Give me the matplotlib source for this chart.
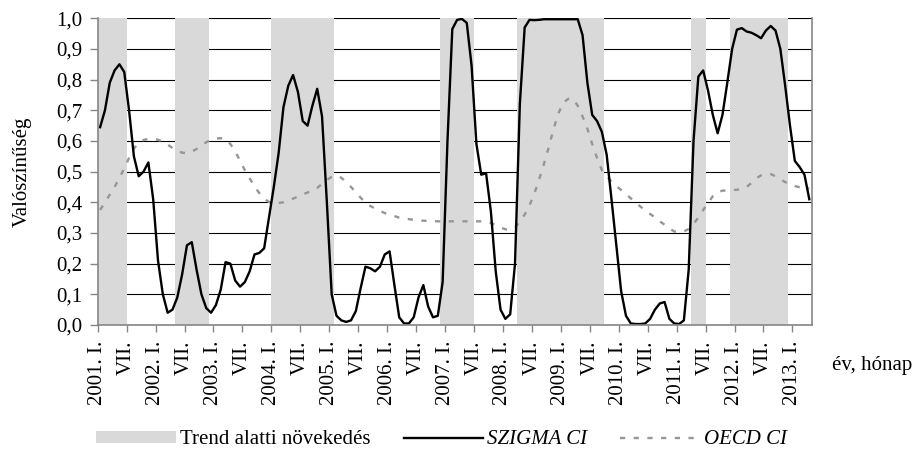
import matplotlib
matplotlib.use('Agg')
import matplotlib.pyplot as plt
from matplotlib.patches import Patch
from matplotlib.lines import Line2D

plt.rcParams['font.family'] = 'Liberation Serif'
plt.rcParams['font.size'] = 15

# monthly series, 2001 I .. 2013 IV (148 months)
szigma_ci = [
    0.645, 0.70, 0.79, 0.83, 0.85, 0.825, 0.70, 0.55, 0.485, 0.50, 0.53, 0.41,      # 2001
    0.21, 0.10, 0.04, 0.05, 0.09, 0.165, 0.26, 0.27, 0.18, 0.10, 0.055, 0.04,       # 2002
    0.065, 0.115, 0.205, 0.20, 0.145, 0.125, 0.14, 0.175, 0.23, 0.235, 0.25, 0.35,  # 2003
    0.45, 0.56, 0.71, 0.78, 0.815, 0.76, 0.665, 0.65, 0.715, 0.77, 0.68, 0.40,      # 2004
    0.10, 0.03, 0.015, 0.01, 0.015, 0.045, 0.12, 0.19, 0.185, 0.175, 0.19, 0.23,    # 2005
    0.24, 0.13, 0.025, 0.005, 0.005, 0.025, 0.09, 0.13, 0.06, 0.025, 0.03, 0.14,    # 2006
    0.60, 0.965, 0.995, 0.998, 0.985, 0.845, 0.59, 0.49, 0.495, 0.37, 0.175, 0.05,  # 2007
    0.02, 0.035, 0.20, 0.72, 0.97, 0.995, 0.994, 0.995, 0.997, 0.997, 0.997, 0.997, # 2008
    0.997, 0.997, 0.997, 0.997, 0.945, 0.79, 0.685, 0.665, 0.63, 0.555, 0.41, 0.26, # 2009
    0.11, 0.03, 0.005, 0.003, 0.003, 0.005, 0.02, 0.05, 0.07, 0.075, 0.02, 0.005,   # 2010
    0.003, 0.015, 0.18, 0.60, 0.81, 0.83, 0.765, 0.685, 0.625, 0.685, 0.79, 0.90,   # 2011
    0.963, 0.968, 0.957, 0.953, 0.945, 0.935, 0.96, 0.975, 0.96, 0.90, 0.78, 0.65,  # 2012
    0.535, 0.515, 0.49, 0.41,                                                       # 2013
]
oecd_ci = [
    0.375, 0.40, 0.425, 0.45, 0.48, 0.51, 0.545, 0.575, 0.595, 0.603, 0.607, 0.607,
    0.604, 0.598, 0.588, 0.577, 0.567, 0.562, 0.560, 0.565, 0.574, 0.585, 0.596, 0.604,
    0.608, 0.609, 0.607, 0.59, 0.567, 0.535, 0.505, 0.478, 0.452, 0.43, 0.412, 0.401,
    0.398, 0.398, 0.400, 0.405, 0.412, 0.419, 0.426, 0.432, 0.438, 0.447, 0.460, 0.473,
    0.483, 0.488, 0.480, 0.466, 0.450, 0.433, 0.415, 0.400, 0.388, 0.380, 0.372, 0.365,
    0.360, 0.355, 0.350, 0.347, 0.345, 0.343, 0.341, 0.340, 0.339, 0.339, 0.338, 0.338,
    0.338, 0.338, 0.338, 0.338, 0.338, 0.338, 0.338, 0.338, 0.338, 0.333, 0.326, 0.318,
    0.312, 0.310, 0.318, 0.338, 0.36, 0.39, 0.428, 0.475, 0.525, 0.58, 0.64, 0.69,
    0.725, 0.737, 0.738, 0.715, 0.68, 0.64, 0.59, 0.545, 0.505, 0.485, 0.467, 0.453,
    0.44, 0.427, 0.413, 0.399, 0.386, 0.373, 0.362, 0.351, 0.338, 0.327, 0.315, 0.305,
    0.303, 0.305, 0.313, 0.33, 0.35, 0.375, 0.397, 0.42, 0.433, 0.438, 0.439, 0.440,
    0.441, 0.443, 0.450, 0.463, 0.478, 0.488, 0.492, 0.492, 0.485, 0.475, 0.466, 0.459,
    0.453, 0.449, 0.447, 0.445,
]

# below-trend growth periods (first month index, last month index)
trend_below = [(0, 5), (16, 22), (36, 48), (71, 77), (87, 104), (123, 125), (131, 142)]

# x tick labels every 6 months
tick_labels = []
for y in range(2001, 2014):
    tick_labels.append(f'{y}. I.')
    if y < 2013:
        tick_labels.append('VII.')

months = list(range(len(szigma_ci)))

fig = plt.figure(figsize=(9.2, 4.53), dpi=100)
ax = fig.add_axes([0.1062, 0.2826, 0.7761, 0.6770])

# shaded periods
for a, b in trend_below:
    ax.axvspan(a - 0.5, b + 0.5, color='#d9d9d9', lw=0, zorder=2)

ax.plot(months, oecd_ci, color='#969696', lw=1.7, ls=(0, (2.2, 3.6)), zorder=3)
ax.plot(months, szigma_ci, color='black', lw=1.7, zorder=4)

ax.set_xlim(-0.5, len(months) - 0.5)
ax.set_ylim(0, 1.0)

ax.set_yticks([i / 10 for i in range(11)])
ax.set_yticklabels([f'{i / 10:.1f}'.replace('.', ',') for i in range(11)])
ax.set_xticks([-0.5 + 6 * k for k in range(len(tick_labels))])
ax.set_xticklabels(tick_labels, rotation=90, va='top', ha='center')

ax.yaxis.grid(True, color='black', lw=0.8, zorder=1)
ax.set_axisbelow(True)
ax.tick_params(axis='y', direction='out', length=6, width=1, color='#868686', pad=5)
ax.tick_params(axis='x', direction='out', length=5, width=1, color='#868686', pad=6)

for s in ['left', 'bottom', 'right']:
    ax.spines[s].set_color('#868686')
    ax.spines[s].set_linewidth(1.2)
    ax.spines[s].set_zorder(5)
ax.spines['top'].set_visible(False)

fig.text(0.024, 0.621, 'Valószínűség', rotation=90, ha='center', va='center')
fig.text(0.904, 0.194, 'év, hónap', ha='left', va='center')

handles = [
    Patch(facecolor='#d9d9d9', edgecolor='none'),
    Line2D([], [], color='black', lw=1.7),
    Line2D([], [], color='#969696', lw=1.7, ls=(0, (2.2, 3.6))),
]
leg = fig.legend(handles, ['Trend alatti növekedés', 'SZIGMA CI', 'OECD CI'],
                 loc='center', bbox_to_anchor=(0.48, 0.029), ncol=3, frameon=False,
                 handlelength=3.8, handleheight=0.55, handletextpad=0.2,
                 columnspacing=1.6, borderpad=0)
for t in leg.get_texts()[1:]:
    t.set_style('italic')

fig.savefig('out.png', dpi=100)
